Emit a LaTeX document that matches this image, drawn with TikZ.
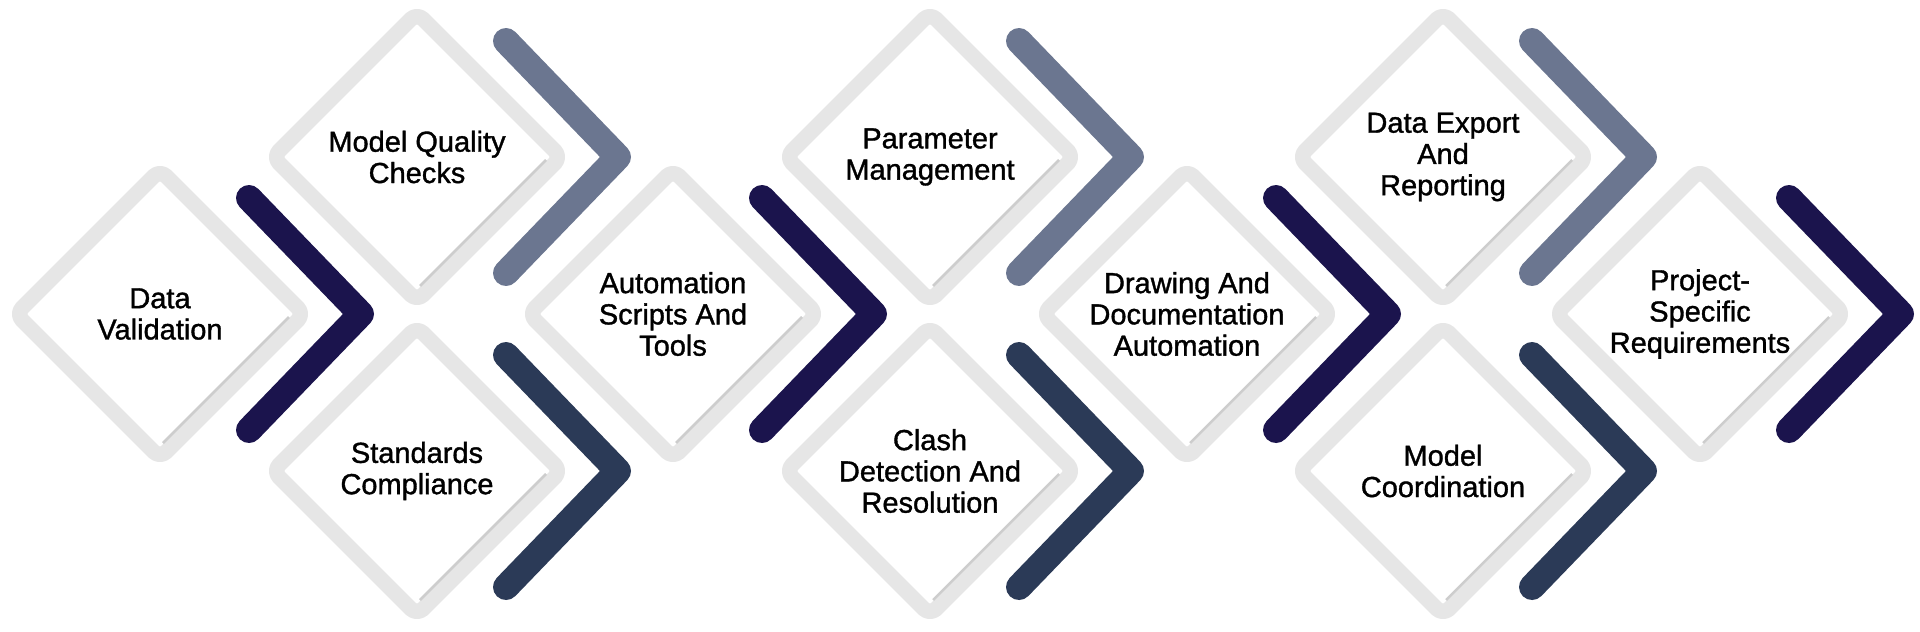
\documentclass[tikz,border=0pt]{standalone}
\usepackage{fontspec}
\setmainfont{Liberation Sans}[FakeBold=1.2]
\usetikzlibrary{calc}

\definecolor{boxgray}{HTML}{E6E6E6}
\definecolor{shadegray}{HTML}{CDCDCD}
\definecolor{navy}{HTML}{1B144D}
\definecolor{slate}{HTML}{6B7690}
\definecolor{darkslate}{HTML}{2B3A57}

\begin{document}
\begin{tikzpicture}[x=0.02cm,y=-0.02cm,
        lbl/.style={align=center,font=\fontsize{16.5}{17.8}\selectfont},
        box/.style={draw=boxgray,line width=0.31cm,line join=round,rounded corners=5pt},
        shade/.style={draw=shadegray,line width=0.05cm},
        chev/.style={line width=0.52cm,line cap=round,line join=round}]
            \useasboundingbox (0,0) rectangle (1920,632);

            % steps
            \node[lbl] (dv) at (160,314) {Data\\Validation};
            \node[lbl] (mq) at (417,157) {Model Quality\\Checks};
            \node[lbl] (sc) at (417,471) {Standards\\Compliance};
            \node[lbl] (as) at (673,314) {Automation\\Scripts And\\Tools};
            \node[lbl] (pm) at (930,157) {Parameter\\Management};
            \node[lbl] (cd) at (930,471) {Clash\\Detection And\\Resolution};
            \node[lbl] (dd) at (1187,314) {Drawing And\\Documentation\\Automation};
            \node[lbl] (de) at (1443,157) {Data Export\\And\\Reporting};
            \node[lbl] (mc) at (1443,471) {Model\\Coordination};
            \node[lbl] (ps) at (1700,314) {Project-\\Specific\\Requirements};

            % diamonds round the steps
            \foreach \n in {dv,mq,sc,as,pm,cd,dd,de,mc,ps}{
                    \draw[box] ($(\n)+(-144,0)$) -- ($(\n)+(0,-144)$) -- ($(\n)+(144,0)$) -- ($(\n)+(0,144)$) -- cycle;
                    \draw[shade] ($(\n)+(129,3)$) -- ($(\n)+(3,129)$);
                }

            % chevrons
            \foreach \n/\c in {dv/navy,mq/slate,sc/darkslate,as/navy,pm/slate,cd/darkslate,dd/navy,de/slate,mc/darkslate,ps/navy}{
                    \draw[chev,draw=\c] ($(\n)+(89,-116)$) -- ($(\n)+(201,0)$) -- ($(\n)+(89,116)$);
                }
        \end{tikzpicture}
\end{document}
